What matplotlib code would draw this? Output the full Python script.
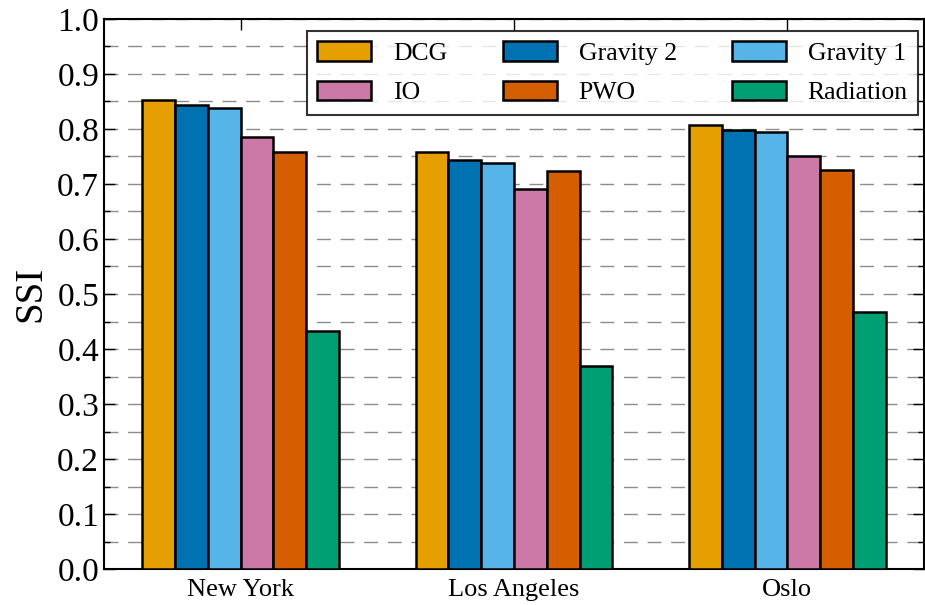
import numpy as np
import matplotlib
matplotlib.use('Agg')
import matplotlib.pyplot as plt
from matplotlib.ticker import MultipleLocator, FormatStrFormatter

plt.rcParams['font.family'] = ['Liberation Serif', 'DejaVu Serif']

cities = ['New York', 'Los Angeles', 'Oslo']
models = ['DCG', 'Gravity 2', 'Gravity 1', 'IO', 'PWO', 'Radiation']
colors = ['#E69F00', '#0072B2', '#56B4E9', '#CC79A7', '#D55E00', '#009E73']

dcg = [0.852, 0.759, 0.808]
gravity2 = [0.843, 0.744, 0.799]
gravity1 = [0.839, 0.738, 0.794]
io = [0.786, 0.690, 0.750]
pwo = [0.759, 0.724, 0.725]
radiation = [0.433, 0.370, 0.467]
series = [dcg, gravity2, gravity1, io, pwo, radiation]

fig = plt.figure(figsize=(9.25, 6.05), dpi=100)
ax = fig.add_axes([0.1124, 0.0595, 0.8866, 0.9091])

x = np.arange(len(cities))
width = 0.12
bars = []
for i, (vals, name, c) in enumerate(zip(series, models, colors)):
    b = ax.bar(x + (i - 2.5) * width, vals, width, color=c, edgecolor='black',
               linewidth=1.8, label=name, zorder=3)
    bars.append(b)

ax.set_xlim(-0.5, 2.5)
ax.set_ylim(0, 1.0)
ax.yaxis.set_major_locator(MultipleLocator(0.1))
ax.yaxis.set_minor_locator(MultipleLocator(0.05))
ax.yaxis.set_major_formatter(FormatStrFormatter('%.1f'))
ax.set_xticks(x)
ax.set_xticklabels(cities)
ax.tick_params(axis='both', which='both', direction='in', top=True, right=True)
ax.tick_params(axis='both', which='major', length=8, width=1, labelsize=24)
ax.tick_params(axis='y', which='minor', length=4, width=1)
ax.tick_params(axis='x', which='major', pad=7, labelsize=19)

ax.yaxis.grid(True, which='both', linestyle=(0, (10, 7)), color='#8c8c8c',
              linewidth=1.0, zorder=0)
ax.set_axisbelow(True)
for s in ax.spines.values():
    s.set_linewidth(1.5)
    s.set_color('black')

ax.set_ylabel('SSI', fontsize=28, labelpad=6)

# legend rows go across: reorder so ncol=3 fills row-wise
order = [0, 3, 1, 4, 2, 5]
leg = ax.legend([bars[k] for k in order], [models[k] for k in order],
                ncol=3, loc='upper right', fontsize=18.5, frameon=True,
                fancybox=False, edgecolor='black', handlelength=2.1,
                handleheight=0.8, handletextpad=0.85, columnspacing=2.15,
                borderpad=0.4, labelspacing=0.6, borderaxespad=0,
                bbox_to_anchor=(0.9927, 0.978))
leg.get_frame().set_linewidth(1.5)

fig.savefig('out.png', dpi=100)
